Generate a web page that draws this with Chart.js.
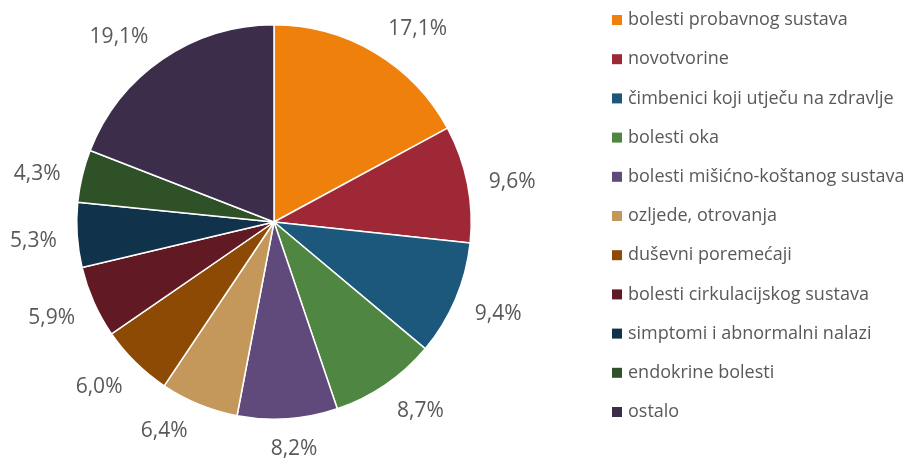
<!DOCTYPE html>
<html>
<head>
<meta charset="utf-8">
<script src="https://cdn.jsdelivr.net/npm/chart.js@4"></script>
<style>
  html, body { margin:0; padding:0; background:#fff; }
  #wrap { width:912px; height:459px; }
</style>
</head>
<body>
<div id="wrap"><canvas id="pie" width="912" height="459"></canvas></div>
<script>
const categories = [
  'bolesti probavnog sustava', 'novotvorine', 'čimbenici koji utječu na zdravlje',
  'bolesti oka', 'bolesti mišićno-koštanog sustava', 'ozljede, otrovanja',
  'duševni poremećaji', 'bolesti cirkulacijskog sustava', 'simptomi i abnormalni nalazi',
  'endokrine bolesti', 'ostalo'
];
const shares = [17.1, 9.6, 9.4, 8.7, 8.2, 6.4, 6.0, 5.9, 5.3, 4.3, 19.1];
const sliceColors = [
  '#ef800b', '#9f2836', '#1c587c', '#4f8742', '#604a7b', '#c3985a',
  '#8c4a04', '#611a24', '#10324a', '#2f5128', '#3c2d4a'
];
// small angular tweaks (degrees) so labels sit where they read best
const labelShift = [5.8, 1.4, -0.9, -3.6, -1.1, 5.5, 2.2, 0.7, -0.5, -1.8, -5.4];

const textColor = '#595959';

// percentage labels just outside each slice
const outsideLabels = {
  id: 'outsideLabels',
  afterDatasetsDraw(chart) {
    const ctx = chart.ctx;
    const meta = chart.getDatasetMeta(0);
    ctx.save();
    ctx.font = '21px "Open Sans"';
    ctx.fillStyle = textColor;
    ctx.textAlign = 'center';
    ctx.textBaseline = 'middle';
    meta.data.forEach((arc, i) => {
      const p = arc.getProps(['x', 'y', 'startAngle', 'endAngle', 'outerRadius'], true);
      const txt = shares[i].toFixed(1).replace('.', ',') + '%';
      const a = (p.startAngle + p.endAngle) / 2 + labelShift[i] * Math.PI / 180;
      const w = ctx.measureText(txt).width;
      const c = Math.cos(a), s = Math.sin(a);
      const r = p.outerRadius + 20 + Math.abs(c) * w / 2 + Math.abs(s) * 8;
      ctx.fillText(txt, p.x + c * r, p.y + s * r + 1);
    });
    ctx.restore();
  }
};

// legend column on the right
const sideLegend = {
  id: 'sideLegend',
  afterDraw(chart, args, opts) {
    const ctx = chart.ctx;
    const colors = chart.data.datasets[0].backgroundColor;
    ctx.save();
    ctx.font = '18px "Open Sans"';
    ctx.textBaseline = 'middle';
    chart.data.labels.forEach((lab, i) => {
      const y = opts.top + i * opts.step;
      ctx.fillStyle = colors[i];
      ctx.fillRect(opts.left, y - 5, 10, 10);
      ctx.fillStyle = textColor;
      ctx.fillText(lab, opts.left + 16, y);
    });
    ctx.restore();
  }
};

new Chart(document.getElementById('pie'), {
  type: 'pie',
  data: {
    labels: categories,
    datasets: [{
      data: shares,
      backgroundColor: sliceColors,
      borderColor: '#ffffff',
      borderWidth: 1.5
    }]
  },
  options: {
    responsive: false,
    animation: false,
    layout: { padding: { left: 76, top: 24, bottom: 39, right: 440 } },
    plugins: {
      legend: { display: false },
      tooltip: { enabled: false },
      sideLegend: { left: 612, top: 20, step: 39.2 }
    }
  },
  plugins: [outsideLabels, sideLegend]
});
</script>
</body>
</html>
